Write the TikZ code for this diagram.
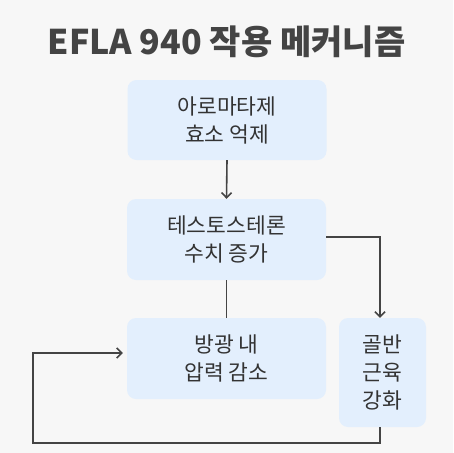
\documentclass[tikz,border=0pt]{standalone}
\usepackage{fontspec}
\setmainfont{Noto Sans CJK KR}
\usetikzlibrary{arrows.meta}
\definecolor{bg}{HTML}{F7F7F7}
\definecolor{boxfill}{HTML}{E3EFFD}
\definecolor{txt}{HTML}{333333}
\definecolor{ln}{HTML}{444444}
\tikzset{
  box/.style={draw=none, fill=boxfill, rounded corners=9pt, inner sep=0pt, align=center, text=txt, font=\fontsize{21.5}{28}\selectfont},
  conn/.style={draw=ln, line width=1.6pt},
  arr/.style={conn, -{Straight Barb[length=5pt,width=10pt]}}
}
\begin{document}
\begin{tikzpicture}[x=1pt,y=-1pt]
\fill[bg] (0,0) rectangle (453,453);
\useasboundingbox (0,0) rectangle (453,453);
\node[text=ln, font=\fontsize{34}{38}\selectfont\bfseries] (title) at (226.5,42) {EFLA 940 작용 메커니즘};
\node[box, minimum width=199pt, minimum height=80pt] (b1) at (227,120) {아로마타제\\효소 억제};
\node[box, minimum width=199pt, minimum height=81pt] (b2) at (226.5,239.5) {테스토스테론\\수치 증가};
\node[box, minimum width=199pt, minimum height=81pt] (b3) at (226.5,358.5) {방광 내\\압력 감소};
\node[box, minimum width=87pt, minimum height=109pt] (b4) at (382.5,372.5) {골반\\근육\\강화};
\draw[arr] (b1.south) -- (b2.north);
\draw[conn] (b2.south) -- (b3.north);
\coordinate (c1) at (380,237);
\draw[arr] (b2.east |- c1) -- (c1) -- (c1 |- b4.north);
\coordinate (c2) at (380,443);
\coordinate (c3) at (33,443);
\coordinate (c4) at (33,353);
\draw[arr] (c2 |- b4.south) -- (c2) -- (c3) -- (c4) -- ([xshift=-4pt]b3.west |- c4);
\end{tikzpicture}
\end{document}
